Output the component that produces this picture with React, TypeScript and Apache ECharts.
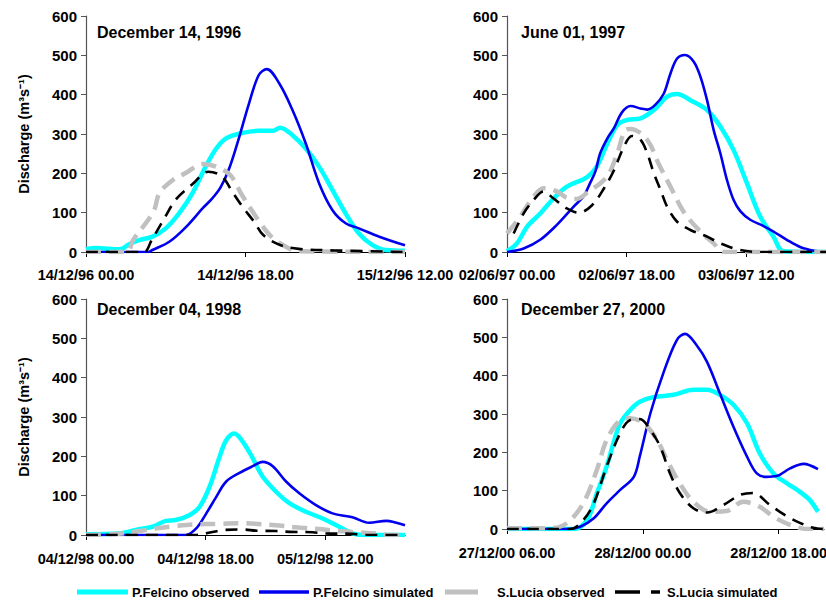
import React, { useEffect, useRef } from "react";
import * as echarts from "echarts";

// ---------- data (hours from first tick, discharge m3/s) ----------
const seriesNames = ["P.Felcino observed", "P.Felcino simulated", "S.Lucia observed", "S.Lucia simulated"];

const panelTitles = ["December 14, 1996", "June 01, 1997", "December 04, 1998", "December 27, 2000"];
const panelMaxHours = [36, 48, 48, 42];
const tickHours = [0, 18, 36];
const p1TickLabels = ["14/12/96 00.00", "14/12/96 18.00", "15/12/96 12.00"];
const p2TickLabels = ["02/06/97 00.00", "02/06/97 18.00", "03/06/97 12.00"];
const p3TickLabels = ["04/12/98 00.00", "04/12/98 18.00", "05/12/98 12.00"];
const p4TickLabels = ["27/12/00 06.00", "28/12/00 00.00", "28/12/00 18.00"];
const yTicks = [0, 100, 200, 300, 400, 500, 600];

// Panel 1 – December 14, 1996
const p1FelcinoObs = [[0, 7], [1.1, 10], [3.8, 7], [4.9, 20], [6, 30], [7.5, 39], [9, 60], [10.5, 98], [12, 149], [13.5, 217], [14.7, 263], [15.8, 289], [17.7, 303], [19.5, 308], [21.1, 308], [21.9, 316], [23.3, 297], [24.8, 263], [26.3, 217], [27.8, 158], [29.3, 98], [30.8, 47], [32.3, 18], [33.8, 5], [36, 3]];
const p1FelcinoSim = [[0, 0], [7, 0], [7.5, 5], [9.4, 26], [11.3, 64], [13.2, 112], [14.2, 135], [15.2, 165], [16.2, 215], [17.3, 293], [18.4, 378], [19.5, 450], [20.4, 465], [21.8, 429], [23.3, 361], [24.8, 276], [26.3, 175], [27.8, 107], [29.3, 73], [30.8, 60], [33.1, 39], [36, 17]];
const p1LuciaObs = [[0, 0], [4.6, 0], [5.3, 30], [7.6, 102], [8.3, 150], [9.8, 183], [11.2, 200], [13.2, 224], [14.7, 217], [16.3, 195], [17.6, 145], [19.6, 76], [21.1, 35], [23, 8], [24, 2], [36, 0]];
const p1LuciaSim = [[0, 0], [6.5, 0], [7.4, 30], [8.7, 80], [10.2, 135], [12, 172], [13.8, 204], [15.3, 193], [16.6, 150], [17.7, 114], [19, 76], [20, 43], [21.9, 18], [24, 8], [28, 4], [36, 0]];

// Panel 2 – June 01, 1997
const p2FelcinoObs = [[0, 2], [1.5, 22], [3, 64], [5, 98], [7, 136], [9, 166], [12, 190], [13.5, 217], [15.1, 276], [16.6, 323], [18.1, 336], [20.1, 340], [22.1, 361], [24.1, 395], [25.6, 402], [27.6, 386], [30.1, 361], [32.1, 319], [34.1, 259], [36.1, 175], [38.1, 90], [40.1, 39], [41.6, 2], [48, 0]];
const p2FelcinoSim = [[0, 0], [2.5, 9], [5, 31], [7.5, 69], [10, 115], [11.5, 141], [12.5, 175], [13.3, 205], [14, 250], [15.1, 289], [16.1, 315], [17.3, 355], [18.6, 371], [20.1, 365], [21.1, 362], [22.3, 374], [23.6, 403], [24.6, 454], [25.6, 492], [26.8, 501], [28.1, 484], [29.1, 446], [30.1, 386], [31.1, 310], [32.1, 251], [33.1, 183], [34.1, 132], [35.1, 104], [36.6, 82], [38.6, 66], [40.1, 52], [42.1, 31], [44.2, 12], [46.2, 3], [48, 0]];
const p2LuciaObs = [[0, 47], [2, 90], [4, 141], [5.5, 162], [7.5, 154], [9, 138], [10.5, 135], [12, 150], [15, 191], [16.6, 251], [17.8, 310], [18.6, 313], [21.1, 285], [22.8, 225], [24.6, 166], [26.6, 102], [29.1, 52], [31.1, 22], [32.6, 0], [48, 0]];
const p2LuciaSim = [[1, 47], [2.5, 98], [4, 132], [5.5, 154], [7, 136], [9, 111], [10.8, 100], [12.8, 119], [14.6, 162], [16.1, 208], [17.6, 268], [18.8, 295], [20.1, 285], [21.1, 251], [22.1, 200], [23.1, 158], [24.1, 115], [25.6, 77], [27.6, 56], [30.1, 39], [32.1, 22], [35.1, 5], [38.1, 0], [48, 0]];

// Panel 3 – December 04, 1998
const p3FelcinoObs = [[0, 2], [5, 4], [7.5, 13], [10, 21], [12, 36], [13.5, 38], [15.6, 51], [17.1, 72], [18.6, 123], [20.1, 199], [21.1, 241], [22.3, 258], [23.6, 237], [25.1, 195], [26.6, 148], [28.6, 110], [30.6, 81], [33.1, 59], [35.6, 42], [38.1, 21], [40.1, 4], [41.6, 0], [48, 0]];
const p3FelcinoSim = [[0, 0], [15, 0], [16.6, 17], [18.1, 55], [19.6, 97], [21.1, 136], [23.1, 158], [25.1, 175], [26.6, 186], [28.1, 175], [30.1, 136], [32.1, 106], [34.6, 76], [37.1, 55], [40.1, 45], [42.6, 31], [45.2, 36], [46.7, 31], [48, 25]];
const p3LuciaObs = [[0, 0], [5, 3], [8, 10], [11, 18], [13, 22], [16, 27], [20, 28], [23, 30], [26, 28], [29, 24], [32, 19], [35, 15], [38, 10], [41, 7], [44, 3], [46, 0], [48, 0]];
const p3LuciaSim = [[0, 0], [16.6, 0], [18, 4], [21, 13], [23.6, 14], [25.6, 11], [28.6, 10], [30.6, 8], [34.1, 7], [36, 4], [40, 3], [42, 0], [48, 0]];

// Panel 4 – December 27, 2000
const p4FelcinoObs = [[0, 0], [8.8, 0], [10.6, 23], [11.9, 93], [13.2, 163], [14.1, 224], [15, 276], [16.3, 310], [17.6, 332], [19.4, 344], [22.1, 350], [24.7, 363], [26.5, 363], [28.2, 350], [30, 324], [31.8, 276], [33.5, 197], [35.3, 145], [37.1, 119], [38.8, 97], [40.1, 76], [41.2, 45]];
const p4FelcinoSim = [[0, 0], [8, 0], [9.7, 6], [11.5, 28], [13.2, 67], [15, 102], [16.8, 136], [17.6, 190], [19, 302], [20.7, 406], [22.5, 493], [23.6, 509], [25.1, 480], [26.5, 436], [28.2, 354], [30, 267], [31.8, 189], [33.1, 145], [34.4, 136], [35.7, 138], [37.5, 158], [39.3, 170], [41.2, 156]];
const p4LuciaObs = [[0, 2], [5.7, 2], [7.9, 15], [10.1, 67], [11.9, 154], [13.2, 232], [15, 284], [16.3, 289], [18.1, 276], [19.9, 232], [21.2, 180], [22.9, 119], [24.7, 71], [26.9, 45], [29.1, 47], [31.3, 71], [33.5, 58], [35.3, 32], [37.5, 11], [39.7, 0], [42, 0]];
const p4LuciaSim = [[0, 0], [8.4, 0], [10.1, 23], [11.5, 67], [13.2, 163], [15, 250], [16.3, 284], [17.6, 287], [19, 258], [20.3, 215], [21.6, 145], [22.9, 94], [24.7, 54], [26.5, 43], [28.7, 63], [30.9, 89], [32.6, 94], [34.8, 63], [37.1, 33], [38.8, 16], [40.6, 3], [42, 0]];

const panelData = [
  [p1FelcinoObs, p1FelcinoSim, p1LuciaObs, p1LuciaSim],
  [p2FelcinoObs, p2FelcinoSim, p2LuciaObs, p2LuciaSim],
  [p3FelcinoObs, p3FelcinoSim, p3LuciaObs, p3LuciaSim],
  [p4FelcinoObs, p4FelcinoSim, p4LuciaObs, p4LuciaSim],
];
const panelTickLabels = [p1TickLabels, p2TickLabels, p3TickLabels, p4TickLabels];

// ---------- layout / style ----------
const FONT = "'Liberation Sans', Arial, sans-serif";
const grids = [
  { left: 86, top: 16, width: 319, height: 236 },
  { left: 507, top: 16, width: 319, height: 236 },
  { left: 86, top: 299, width: 319, height: 236 },
  { left: 507, top: 299, width: 317, height: 230 },
];
const titlePos = [
  { left: 97, top: 24 },
  { left: 521, top: 24 },
  { left: 97, top: 301 },
  { left: 521, top: 301 },
];
const xLabelMargin = [15, 15, 16, 16];
const lineStyles = [
  { color: "#00FFFF", width: 4.5, type: "solid" },
  { color: "#0000EE", width: 2.6, type: "solid" },
  { color: "#C0C0C0", width: 4.5, type: [15, 8] },
  { color: "#000000", width: 2.6, type: [12, 8] },
];
// legend swatches: [x0, x1] segments and text x
const legendY = 592;
const legendSegments = [[[77, 128]], [[259, 309]], [[445, 478]], [[615, 640], [651, 660]]];
const legendTextX = [132, 313, 497, 667];

export default function App() {
  const ref = useRef<HTMLDivElement>(null);
  useEffect(() => {
    document.body.style.margin = "0";
    if (!ref.current) return;
    const chart = echarts.init(ref.current, null, { renderer: "svg" });

    const xAxes = grids.map((_, i) => ({
      type: "value",
      gridIndex: i,
      min: 0,
      max: panelMaxHours[i],
      interval: 18,
      splitLine: { show: false },
      axisLine: { lineStyle: { color: "#000", width: 1.2 } },
      axisTick: { show: true, length: 5, customValues: tickHours, lineStyle: { color: "#000" } },
      axisLabel: {
        customValues: tickHours,
        margin: xLabelMargin[i],
        color: "#000",
        fontFamily: FONT,
        fontWeight: "bold",
        fontSize: 14.5,
        formatter: (v: number) => {
          const k = tickHours.indexOf(v);
          return k >= 0 ? panelTickLabels[i][k] : "";
        },
      },
    }));

    const yAxes = grids.map((_, i) => ({
      type: "value",
      gridIndex: i,
      min: 0,
      max: 600,
      interval: 100,
      splitLine: { show: false },
      axisLine: { show: true, lineStyle: { color: "#555", width: 1.2 } },
      axisTick: { show: true, length: 5, lineStyle: { color: "#555" } },
      axisLabel: {
        margin: 9,
        color: "#000",
        fontFamily: FONT,
        fontWeight: "bold",
        fontSize: 15,
        formatter: (v: number) => (yTicks.indexOf(v) >= 0 ? String(v) : ""),
      },
      name: i % 2 === 0 ? "Discharge (m\u00B3s\u207B\u00B9)" : "",
      nameLocation: "middle",
      nameRotate: 90,
      nameGap: 55,
      nameTextStyle: { color: "#000", fontFamily: FONT, fontWeight: "bold", fontSize: 14.5 },
    }));

    const series: any[] = [];
    panelData.forEach((sets, p) => {
      sets.forEach((d, s) => {
        series.push({
          type: "line",
          name: seriesNames[s],
          xAxisIndex: p,
          yAxisIndex: p,
          data: d,
          symbol: "none",
          smooth: 0.35,
          lineStyle: lineStyles[s],
          itemStyle: { color: lineStyles[s].color },
          z: 2 + s,
        });
      });
    });

    const legendGraphics: any[] = [];
    seriesNames.forEach((name, s) => {
      legendSegments[s].forEach(([x0, x1]) => {
        legendGraphics.push({
          type: "line",
          shape: { x1: x0, y1: legendY, x2: x1, y2: legendY },
          style: { stroke: lineStyles[s].color, lineWidth: s === 1 || s === 3 ? 3.5 : 5 },
        });
      });
      legendGraphics.push({
        type: "text",
        x: legendTextX[s],
        y: legendY,
        style: {
          text: name,
          fill: "#000",
          font: `bold 13px ${FONT}`,
          verticalAlign: "middle",
          align: "left",
        },
      });
    });

    chart.setOption({
      animation: false,
      backgroundColor: "#fff",
      title: panelTitles.map((t, i) => ({
        text: t,
        left: titlePos[i].left,
        top: titlePos[i].top,
        padding: 0,
        textStyle: { color: "#000", fontFamily: FONT, fontWeight: "bold", fontSize: 16 },
      })),
      grid: grids.map((g) => ({ ...g, containLabel: false, outerBoundsMode: "none" })),
      xAxis: xAxes,
      yAxis: yAxes,
      series,
      graphic: legendGraphics,
    });
    return () => chart.dispose();
  }, []);
  return (
    <div
      ref={ref}
      style={{ position: "absolute", left: 0, top: 0, width: 826, height: 601 }}
    />
  );
}
